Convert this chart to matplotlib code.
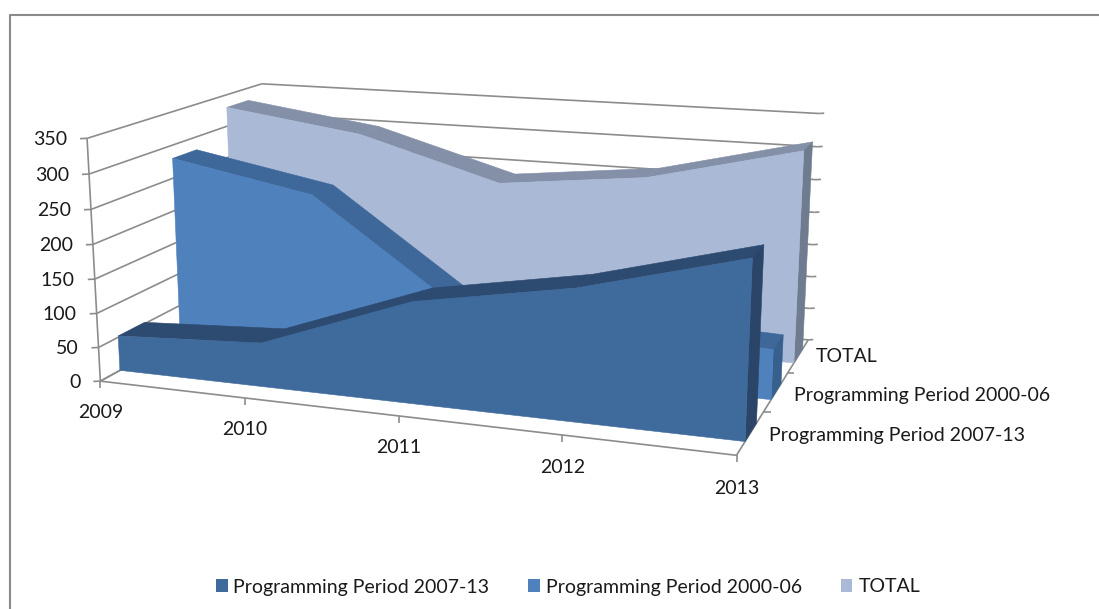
import numpy as np
import matplotlib
matplotlib.use("Agg")
import matplotlib.pyplot as plt
from matplotlib.patches import Polygon, Patch

# ---- data ----
years = ["2009", "2010", "2011", "2012", "2013"]
series_names = ["Programming Period 2007-13", "Programming Period 2000-06", "TOTAL"]
period_0713 = [52, 64, 145, 184, 243]
period_0006 = [280, 240, 88, 80, 72]
total = [330, 300, 238, 262, 316]
y_ticks = [0, 50, 100, 150, 200, 250, 300, 350]

# ---- style ----
FACE = ["#3F6A9C", "#4F81BD", "#AAB9D6"]
TOP = ["#2D4A70", "#3F689A", "#8490A8"]
SIDE = ["#2B4568", "#38608F", "#6F7C90"]
GRID = "#8C8C8C"
TXT = "#1a1a1a"
FONT = "Lato"
FS = 14.0

# ---- 3D chart box -> image pixels (perspective camera fitted to box corners) ----
box = [((0, 0, 0), (100, 378)), ((1, 0, 0), (737, 457)), ((0, 1, 0), (268, 292)),
       ((1, 1, 0), (808, 338)), ((0, 0, 1), (87, 140)), ((0, 1, 1), (262, 82)),
       ((1, 1, 1), (819, 114))]
A = []
for (a, b, c), (u, v) in box:
    A.append([a, b, c, 1, 0, 0, 0, 0, -u*a, -u*b, -u*c, -u])
    A.append([0, 0, 0, 0, a, b, c, 1, -v*a, -v*b, -v*c, -v])
M = np.linalg.svd(np.array(A, float))[2][-1].reshape(3, 4)


def proj(i, d, val):
    """i: year index, d: depth in category units (0..3), val: data value"""
    h = M @ np.array([i / 4.0, d / 3.0, val / 350.0, 1.0])
    return h[0] / h[2], h[1] / h[2]


fig = plt.figure(figsize=(10.99, 6.09), dpi=100)
ax = fig.add_axes([0, 0, 1, 1])
ax.set_xlim(0, 1099)
ax.set_ylim(609, 0)
ax.axis("off")

# outer chart frame (open on the right)
ax.plot([10, 10, 1099], [609, 15, 15], color="#8A8A8A", lw=1.5)


def line(p, q, lw=1.2, c=GRID, z=1):
    ax.plot([p[0], q[0]], [p[1], q[1]], color=c, lw=lw, solid_capstyle="butt", zorder=z)


# walls
for t in y_ticks:
    line(proj(0, 0, t), proj(0, 3, t))
    line(proj(0, 3, t), proj(4, 3, t))
    a = proj(0, 0, t)
    line((a[0] - 7, a[1] + 0.3), a)
    ax.text(a[0] - 20, a[1] + 1, str(t), ha="right", va="center", fontsize=FS, family=FONT, color=TXT)
    b = proj(4, 3, t)
    line(b, (b[0] + 5, b[1] - 0.3))
line(proj(0, 0, 0), proj(0, 0, 350))
# floor
line(proj(0, 0, 0), proj(4, 0, 0))
line(proj(0, 0, 0), proj(0, 3, 0))
line(proj(4, 0, 0), proj(4, 3, 0))
for i, yr in enumerate(years):
    p = proj(i, 0, 0)
    line(p, (p[0], p[1] + 7), z=1)
    ax.text(p[0], p[1] + 31 + 0.5 * i, yr, ha="center", va="center",
            fontsize=FS, family=FONT, color=TXT)
for k in range(1, 3):
    p = proj(4, k, 0)
    line(p, (p[0] + 7, p[1]))

label_xy = [(769, 436), (794, 395), (816, 357)]
for name, (x, y) in zip(series_names, label_xy):
    ax.text(x, y, name, ha="left", va="center", fontsize=FS, family=FONT, color=TXT)

# series, back to front
FRONT, BACK = 0.30, 0.72
for s, vals in reversed(list(enumerate([period_0713, period_0006, total]))):
    df, db = s + FRONT, s + BACK
    z = 10 + (3 - s)
    # top strips
    for i in range(4):
        q = [proj(i, df, vals[i]), proj(i + 1, df, vals[i + 1]),
             proj(i + 1, db, vals[i + 1]), proj(i, db, vals[i])]
        ax.add_patch(Polygon(q, closed=True, fc=TOP[s], ec=TOP[s], lw=0.4, zorder=z))
    # right end
    q = [proj(4, df, 0), proj(4, db, 0), proj(4, db, vals[4]), proj(4, df, vals[4])]
    ax.add_patch(Polygon(q, closed=True, fc=SIDE[s], ec=SIDE[s], lw=0.4, zorder=z))
    # front face
    q = [proj(i, df, v) for i, v in enumerate(vals)] + [proj(4, df, 0), proj(0, df, 0)]
    ax.add_patch(Polygon(q, closed=True, fc=FACE[s], ec=FACE[s], lw=0.4, zorder=z + 0.5))

# legend
handles = [Patch(fc=FACE[k], ec="none") for k in range(3)]
ax.legend(handles, series_names, loc="center", bbox_to_anchor=(568, 587),
          bbox_transform=ax.transData, ncol=3, frameon=False, handlelength=0.6, handleheight=0.6,
          handletextpad=0.3, columnspacing=2.0, prop={"family": FONT, "size": FS}, labelcolor=TXT)

fig.savefig("out.png", dpi=100)
